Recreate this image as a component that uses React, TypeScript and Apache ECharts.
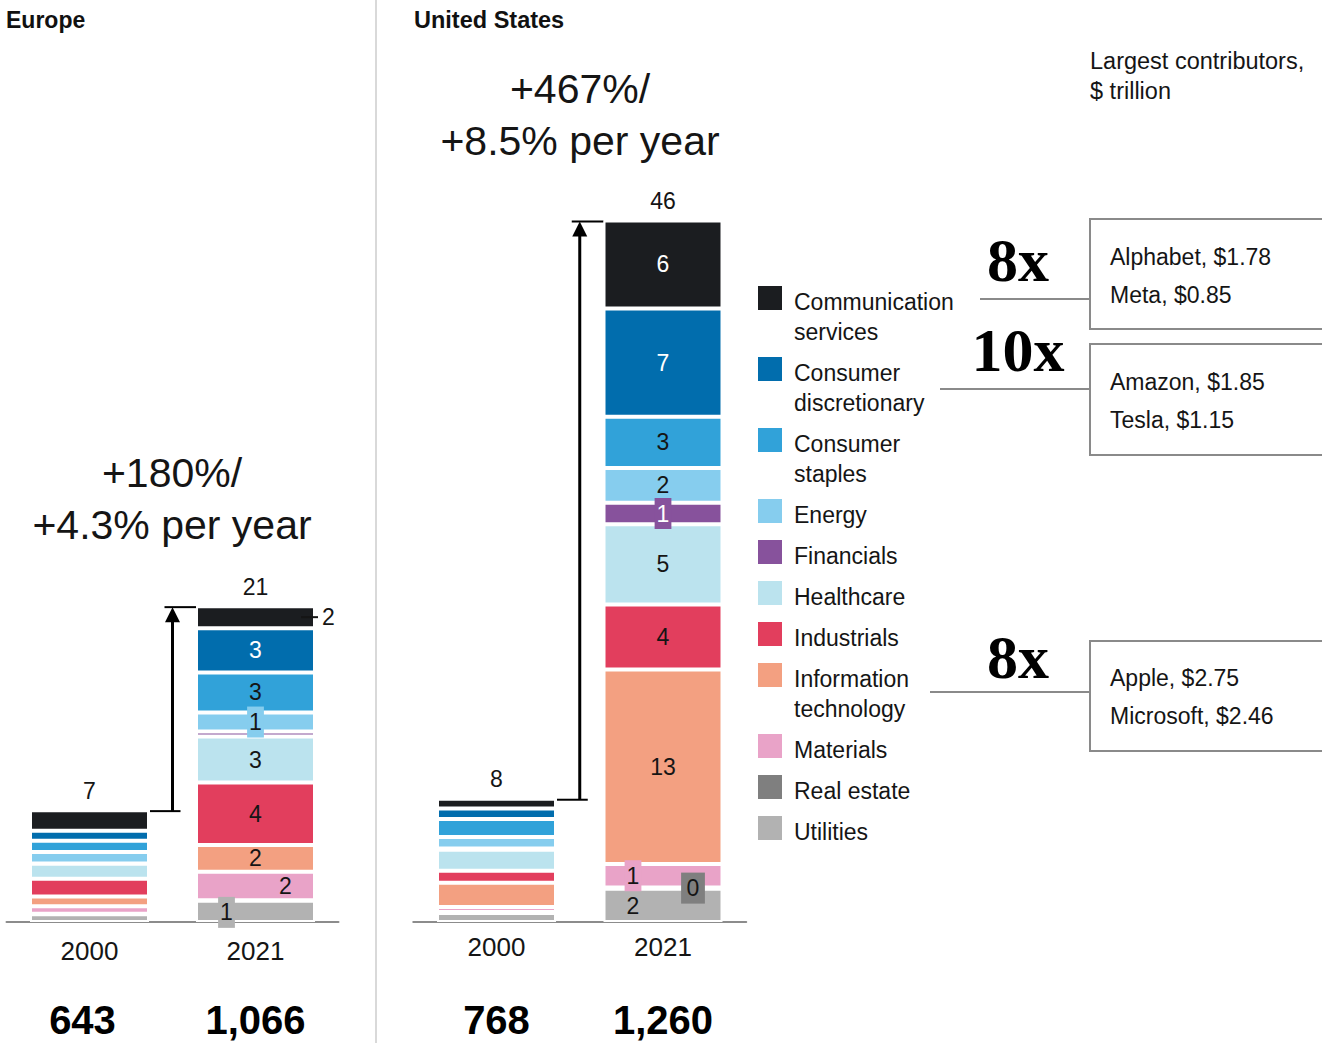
import React, { useEffect, useRef } from "react";
import * as echarts from "echarts";

// ---------- data ----------
const sectors = [
  "Communication\nservices",
  "Consumer\ndiscretionary",
  "Consumer\nstaples",
  "Energy",
  "Financials",
  "Healthcare",
  "Industrials",
  "Information\ntechnology",
  "Materials",
  "Real estate",
  "Utilities",
];
const sectorColors = [
  "#1b1d20",
  "#016dad",
  "#31a2d9",
  "#86cdee",
  "#87529c",
  "#bbe3ee",
  "#e23e5d",
  "#f3a081",
  "#e9a3c8",
  "#7f7f7f",
  "#b2b2b2",
];
const years = ["2000", "2021"];

// $ trillion, in sector order above
const europe2000 = [1.36, 0.66, 0.74, 0.75, 0.02, 0.98, 1.18, 0.63, 0.5, 0.03, 0.51];
const europe2021 = [1.45, 2.91, 2.64, 1.25, 0.33, 3.03, 4.1, 1.77, 1.87, 0.03, 1.4];
const us2000 = [0.65, 0.68, 1.19, 0.76, 0.08, 1.38, 0.79, 1.6, 0.33, 0.05, 0.6];
const us2021 = [5.78, 7.13, 3.37, 2.28, 1.43, 5.28, 4.26, 12.8, 1.55, 0.08, 2.19];

const europe2021Labels = ["2", "3", "3", "1", "", "3", "4", "2", "2", "", "1"];
const us2021Labels = ["6", "7", "3", "2", "1", "5", "4", "13", "1", "0", "2"];
const europeTotals = ["7", "21"];
const usTotals = ["8", "46"];
const europeCompanies = ["643", "1,066"];
const usCompanies = ["768", "1,260"];

const europeGrowth = ["+180%/", "+4.3% per year"];
const usGrowth = ["+467%/", "+8.5% per year"];

const contributorMultipliers = ["8x", "10x", "8x"];
const contributorLines = [
  ["Alphabet, $1.78", "Meta, $0.85"],
  ["Amazon, $1.85", "Tesla, $1.15"],
  ["Apple, $2.75", "Microsoft, $2.46"],
];

// ---------- style ----------
const FONT = "'Liberation Sans', Arial, Helvetica, sans-serif";
const SERIF = "'Liberation Serif', 'Times New Roman', serif";
const DARK = "#151515";
const BAR_W = 119;

function labelFor(region: string, i: number, text: string): any {
  if (!text) return { show: false };
  const base: any = {
    show: true,
    position: "inside",
    formatter: text,
    fontSize: 23,
    lineHeight: 23,
    fontFamily: FONT,
    color: DARK,
  };
  const boxed = (bg: string, pad: number[] = [4, 2]) => ({ backgroundColor: bg, padding: pad });
  if (region === "eu") {
    switch (i) {
      case 0:
        return {
          ...base,
          position: "right",
          distance: 0,
          offset: [-14, 0],
          formatter: "{l| }{n|" + text + "}",
          rich: {
            l: { width: 17, height: 2, backgroundColor: DARK, fontSize: 2, lineHeight: 2 },
            n: { fontSize: 23, lineHeight: 23, color: DARK, fontFamily: FONT, padding: [0, 0, 0, 4] },
          },
        };
      case 1:
        return { ...base, color: "#fff" };
      case 3:
        return { ...base, ...boxed(sectorColors[3]) };
      case 8:
        return { ...base, offset: [30, 0] };
      case 10:
        return { ...base, offset: [-29, 1], ...boxed(sectorColors[10]) };
    }
  } else {
    switch (i) {
      case 0:
      case 1:
        return { ...base, color: "#fff" };
      case 4:
        return { ...base, color: "#fff", ...boxed(sectorColors[4]) };
      case 8:
        return { ...base, offset: [-30, 0], ...boxed(sectorColors[8]) };
      case 9:
        return { ...base, offset: [30, 0], ...boxed(sectorColors[9], [4, 5.5]) };
      case 10:
        return { ...base, offset: [-30, 1] };
    }
  }
  return base;
}

function buildSeries(
  region: string,
  gridIdx: number,
  v2000: number[],
  v2021: number[],
  labels2021: string[],
  totals: string[]
) {
  const out: any[] = [];
  for (let i = sectors.length - 1; i >= 0; i--) {
    out.push({
      name: sectors[i].replace("\n", " "),
      type: "bar",
      stack: region,
      xAxisIndex: gridIdx * 2,
      yAxisIndex: gridIdx,
      barWidth: BAR_W,
      itemStyle: { color: sectorColors[i], borderColor: "#ffffff", borderWidth: 2 },
      emphasis: { disabled: true },
      data: [
        { value: v2000[i], label: { show: false } },
        { value: v2021[i], label: labelFor(region, i, labels2021[i]) },
      ],
    });
  }
  out.push({
    name: region + " total",
    type: "bar",
    stack: region,
    xAxisIndex: gridIdx * 2,
    yAxisIndex: gridIdx,
    barWidth: BAR_W,
    silent: true,
    itemStyle: { color: "transparent", borderWidth: 0 },
    label: {
      show: true,
      position: "top",
      distance: 8,
      fontSize: 23,
      fontFamily: FONT,
      color: DARK,
      formatter: (p: any) => totals[p.dataIndex],
    },
    data: [0, 0],
  });
  return out;
}

const sum = (a: number[]) => a.reduce((s, v) => s + v, 0);

export default function App() {
  const ref = useRef<HTMLDivElement>(null);

  useEffect(() => {
    if (!ref.current) return;
    const chart = echarts.init(ref.current, null, { renderer: "svg" });

    const xAxisCommon = {
      type: "category",
      axisTick: { show: false },
      splitLine: { show: false },
    };

    const staticGraphic: any[] = [];
    // separator
    staticGraphic.push({
      type: "line",
      shape: { x1: 376, y1: 0, x2: 376, y2: 1043 },
      style: { stroke: "#d9d9d9", lineWidth: 2 },
    });
    // headers
    staticGraphic.push({
      type: "text",
      x: 6,
      y: 20,
      style: { text: "Europe", fontSize: 23, fontWeight: "bold", fontFamily: FONT, fill: "#111", textVerticalAlign: "middle" },
    });
    staticGraphic.push({
      type: "text",
      x: 414,
      y: 20,
      style: { text: "United States", fontSize: 23.5, fontWeight: "bold", fontFamily: FONT, fill: "#111", textVerticalAlign: "middle" },
    });
    // growth titles
    staticGraphic.push({
      type: "text",
      x: 172,
      y: 447,
      style: { text: europeGrowth.join("\n"), fontSize: 41, lineHeight: 52, fontFamily: FONT, fill: DARK, textAlign: "center", textVerticalAlign: "top" },
    });
    staticGraphic.push({
      type: "text",
      x: 580,
      y: 63,
      style: { text: usGrowth.join("\n"), fontSize: 41, lineHeight: 52, fontFamily: FONT, fill: DARK, textAlign: "center", textVerticalAlign: "top" },
    });
    // contributors heading
    staticGraphic.push({
      type: "text",
      x: 1090,
      y: 46,
      style: { text: "Largest contributors,\n$ trillion", fontSize: 23.5, lineHeight: 30, fontFamily: FONT, fill: DARK, textVerticalAlign: "top" },
    });
    // legend
    let ly = 286;
    sectors.forEach((name, i) => {
      staticGraphic.push({
        type: "rect",
        shape: { x: 758, y: ly, width: 24, height: 24 },
        style: { fill: sectorColors[i] },
      });
      staticGraphic.push({
        type: "text",
        x: 794,
        y: ly + 1,
        style: { text: name, fontSize: 23, lineHeight: 30, fontFamily: FONT, fill: DARK, textVerticalAlign: "top" },
      });
      ly += 41 + 30 * (name.split("\n").length - 1);
    });
    // contributor boxes
    const boxTops = [219, 344, 641];
    const boxBottoms = [329, 455, 751];
    const connectorY = [299, 389, 692];
    const connectorX = [980, 940, 930];
    const multY = [260, 350, 657];
    const textY = [257, 382, 678];
    contributorMultipliers.forEach((m, k) => {
      staticGraphic.push({
        type: "polyline",
        shape: { points: [[1322, boxTops[k]], [1090, boxTops[k]], [1090, boxBottoms[k]], [1322, boxBottoms[k]]] },
        style: { stroke: "#8a8a8a", lineWidth: 2, fill: "none" },
      });
      staticGraphic.push({
        type: "line",
        shape: { x1: connectorX[k], y1: connectorY[k], x2: 1090, y2: connectorY[k] },
        style: { stroke: "#8a8a8a", lineWidth: 2 },
      });
      staticGraphic.push({
        type: "text",
        x: 1018,
        y: multY[k],
        style: { text: m, fontSize: 62, fontWeight: "bold", fontFamily: SERIF, fill: "#000", textAlign: "center", textVerticalAlign: "middle" },
      });
      staticGraphic.push({
        type: "text",
        x: 1110,
        y: textY[k] - 19,
        style: { text: contributorLines[k].join("\n"), fontSize: 23, lineHeight: 38, fontFamily: FONT, fill: DARK, textVerticalAlign: "top" },
      });
    });

    const companyLabel = {
      interval: 0,
      margin: 80,
      fontSize: 40,
      lineHeight: 36,
      fontWeight: "bold",
      color: "#000",
      fontFamily: FONT,
    };

    const option: any = {
      animation: false,
      backgroundColor: "#ffffff",
      textStyle: { fontFamily: FONT },
      grid: [
        { left: 6.5, width: 332, top: 162, height: 760 },
        { left: 413.25, width: 333, top: 162, height: 760 },
      ],
      xAxis: [
        {
          ...xAxisCommon,
          gridIndex: 0,
          data: years,
          axisLine: { lineStyle: { color: "#8c8c8c", width: 2 } },
          axisLabel: { interval: 0, margin: 16, fontSize: 26, color: DARK, fontFamily: FONT },
        },
        {
          ...xAxisCommon,
          gridIndex: 0,
          position: "bottom",
          data: europeCompanies,
          axisLine: { show: false },
          axisLabel: {
            ...companyLabel,
            formatter: (v: string, idx: number) => (idx === 0 ? "{a|" + v + "}" : v),
            rich: { a: { fontSize: 40, fontWeight: "bold", color: "#000", fontFamily: FONT, padding: [0, 14, 0, 0], lineHeight: 36 } },
          },
        },
        {
          ...xAxisCommon,
          gridIndex: 1,
          data: years,
          axisLine: { lineStyle: { color: "#8c8c8c", width: 2 } },
          axisLabel: { interval: 0, margin: 12, fontSize: 26, color: DARK, fontFamily: FONT },
        },
        {
          ...xAxisCommon,
          gridIndex: 1,
          position: "bottom",
          data: usCompanies,
          axisLine: { show: false },
          axisLabel: companyLabel,
        },
      ],
      yAxis: [
        { type: "value", gridIndex: 0, min: 0, max: 50, show: false },
        { type: "value", gridIndex: 1, min: 0, max: 50, show: false },
      ],
      series: [
        ...buildSeries("eu", 0, europe2000, europe2021, europe2021Labels, europeTotals),
        ...buildSeries("us", 1, us2000, us2021, us2021Labels, usTotals),
      ],
      graphic: staticGraphic,
    };
    chart.setOption(option);

    // growth arrows placed through the chart's own scales
    const arrows: any[] = [];
    const regions = [
      { g: 0, a: europe2000, b: europe2021 },
      { g: 1, a: us2000, b: us2021 },
    ];
    regions.forEach(({ g, a, b }) => {
      const finder = { xAxisIndex: g * 2, yAxisIndex: g };
      const p0 = chart.convertToPixel(finder as any, [0, sum(a)]) as number[];
      const p1 = chart.convertToPixel(finder as any, [1, sum(b)]) as number[];
      const half = (BAR_W - 2) / 2;
      const ax = (p0[0] + p1[0]) / 2;
      const y0 = p0[1] + 1;
      const y1 = p1[1] + 1;
      arrows.push({
        type: "line",
        shape: { x1: p0[0] + half + 2, y1: y0, x2: ax + 8, y2: y0 },
        style: { stroke: "#000", lineWidth: 2 },
      });
      arrows.push({
        type: "line",
        shape: { x1: ax - 8, y1: y1, x2: p1[0] - half - 1, y2: y1 },
        style: { stroke: "#000", lineWidth: 2 },
      });
      arrows.push({
        type: "line",
        shape: { x1: ax, y1: y0, x2: ax, y2: y1 + 12 },
        style: { stroke: "#000", lineWidth: 3 },
      });
      arrows.push({
        type: "polygon",
        shape: { points: [[ax, y1], [ax - 7.5, y1 + 15], [ax + 7.5, y1 + 15]] },
        style: { fill: "#000" },
      });
    });
    chart.setOption({ graphic: [...staticGraphic, ...arrows] });

    return () => chart.dispose();
  }, []);

  return (
    <div
      ref={ref}
      style={{ position: "fixed", left: 0, top: 0, width: 1331, height: 1043, background: "#fff" }}
    />
  );
}
